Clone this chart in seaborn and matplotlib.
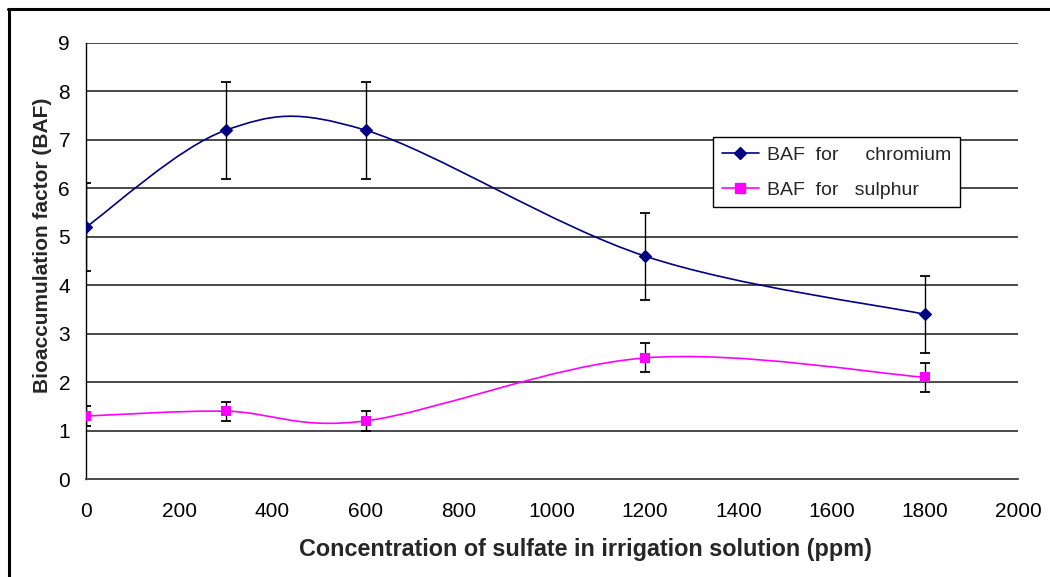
import numpy as np
import seaborn as sns
import matplotlib.pyplot as plt
from matplotlib.path import Path
from matplotlib.patches import PathPatch
from matplotlib.lines import Line2D

# data
conc = [0, 300, 600, 1200, 1800]
baf_chromium = [5.2, 7.2, 7.2, 4.6, 3.4]
err_chromium = [0.9, 1.0, 1.0, 0.9, 0.8]
baf_sulphur = [1.3, 1.4, 1.2, 2.5, 2.1]
err_sulphur = [0.2, 0.2, 0.2, 0.3, 0.3]
x_ticks = list(range(0, 2001, 200))
y_ticks = list(range(0, 10))
label_cr = "BAF  for     chromium"
label_s = "BAF  for   sulphur"


def smooth_path(xs, ys):
    # excel-like smoothed line: bezier segments through the data points
    pts = np.column_stack([xs, ys]).astype(float)
    n = len(pts)
    verts = [pts[0]]
    codes = [Path.MOVETO]
    for i in range(n - 1):
        p0 = pts[max(i - 1, 0)]
        p1 = pts[i]
        p2 = pts[i + 1]
        p3 = pts[min(i + 2, n - 1)]
        verts += [p1 + (p2 - p0) / 6, p2 - (p3 - p1) / 6, p2]
        codes += [Path.CURVE4] * 3
    return Path(verts, codes)


sns.set_style("white")
plt.rcParams['font.family'] = ['Liberation Sans', 'DejaVu Sans']

fig = plt.figure(figsize=(10.5, 5.77), dpi=100)
ax = fig.add_axes([0.0819, 0.1698, 0.8876, 0.7557])

grid_col = "#3c3c3c"
for y in y_ticks[1:]:
    ax.axhline(y, color=grid_col, lw=1.3, zorder=0)

for ys, col in [(baf_chromium, "#000080"), (baf_sulphur, "#ff00ff")]:
    ax.add_patch(PathPatch(smooth_path(conc, ys), facecolor="none",
                           edgecolor=col, lw=1.2, zorder=2))

ax.errorbar(conc, baf_chromium, yerr=err_chromium, fmt="none", ecolor="black",
            elinewidth=1, capsize=3.5, capthick=1.3, zorder=3)
ax.errorbar(conc, baf_sulphur, yerr=err_sulphur, fmt="none", ecolor="black",
            elinewidth=1, capsize=3.5, capthick=1.3, zorder=3)

sns.scatterplot(x=conc, y=baf_chromium, marker="D", color="#000080", s=48,
                linewidth=0, ax=ax, zorder=4)
sns.scatterplot(x=conc, y=baf_sulphur, marker="s", color="#ff00ff", s=42,
                linewidth=0, ax=ax, zorder=4)

ax.set_xlim(0, 2000)
ax.set_ylim(0, 9)
ax.set_xticks(x_ticks)
ax.set_yticks(y_ticks)
ax.tick_params(axis="both", labelsize=15, direction="out", length=4.5,
               width=1.2, colors=grid_col, labelcolor="black")
ax.tick_params(axis="x", pad=12)
ax.tick_params(axis="y", pad=7)

for s in ["top", "right"]:
    ax.spines[s].set_visible(False)
ax.spines["left"].set_color("black")
ax.spines["left"].set_linewidth(1.0)
ax.spines["bottom"].set_color(grid_col)
ax.spines["bottom"].set_linewidth(1.3)

ax.set_xlabel("Concentration of sulfate in irrigation solution (ppm)",
              fontsize=16.8, fontweight="bold")
ax.set_ylabel("Bioaccumulation factor (BAF)", fontsize=15, fontweight="bold")
ax.xaxis.set_label_coords(0.536, -0.136)
ax.yaxis.set_label_coords(-0.036, 0.537)

handles = [
    Line2D([], [], color="#000080", lw=1.2, marker="D", markersize=6.5),
    Line2D([], [], color="#ff00ff", lw=1.2, marker="s", markersize=6.5),
]
leg = ax.legend(handles, [label_cr, label_s], loc="upper left",
                bbox_to_anchor=(0.673, 0.784), borderaxespad=0, fontsize=14,
                frameon=True, fancybox=False, framealpha=1, edgecolor="black",
                handlelength=1.9, handletextpad=0.4, labelspacing=0.9,
                borderpad=0.45)
leg.get_frame().set_linewidth(1.0)

# outer chart border (top and left visible)
fig.add_artist(Line2D([8 / 1050, 1], [1 - 9 / 577, 1 - 9 / 577],
                      transform=fig.transFigure, color="black", lw=2.2))
fig.add_artist(Line2D([9 / 1050, 9 / 1050], [0, 1 - 9 / 577],
                      transform=fig.transFigure, color="black", lw=2.2))

fig.savefig("out.png", dpi=100)
